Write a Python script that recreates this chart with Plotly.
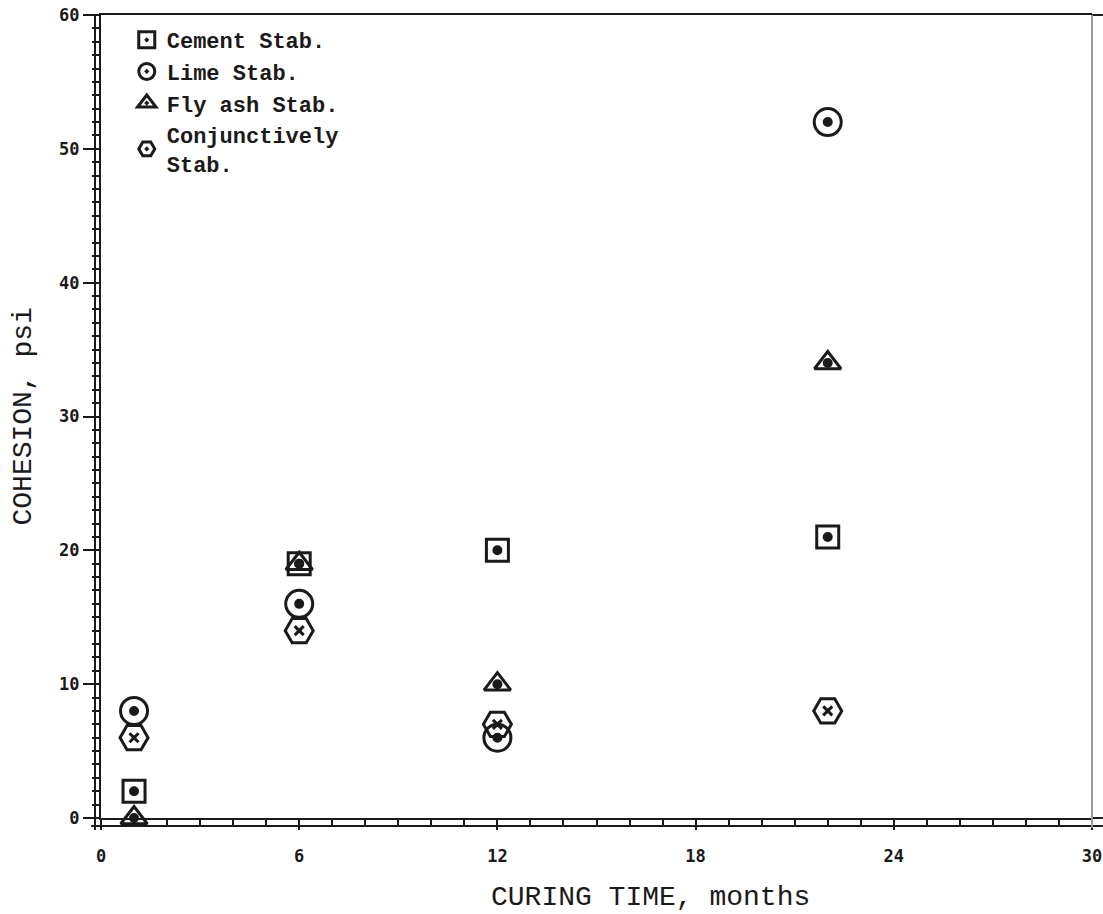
import plotly.graph_objects as go

# ---- data ----
curing_months = [1, 6, 12, 22]
cement = [2, 19, 20, 21]
lime = [8, 16, 6, 52]
fly_ash = [0, 19, 10, 34]
conjunctive = [6, 14, 7, 8]

x_tickvals = [0, 6, 12, 18, 24, 30]
x_ticktext = ["0", "6", "12", "18", "24", "30"]
y_tickvals = [0, 10, 20, 30, 40, 50, 60]
y_ticktext = ["0", "10", "20", "30", "40", "50", "60"]

INK = "#1a1a1a"

series = [
    ("Cement Stab.", cement, "square-open-dot", 22, "circle", 7),
    ("Lime Stab.", lime, "circle-open-dot", 27, "circle", 7),
    ("Fly ash Stab.", fly_ash, "triangle-up-open-dot", 23, "circle", 7),
    ("Conjunctively<br>Stab.", conjunctive, "hexagon2-open-dot", 28, "x-thin-open", 9),
]

fig = go.Figure()
for i, (name, vals, sym, size, inner, isize) in enumerate(series):
    fig.add_trace(go.Scatter(
        x=curing_months, y=vals, mode="markers", name=name,
        legendgroup=str(i), cliponaxis=False,
        marker=dict(symbol=sym, size=size, color=INK,
                    line=dict(width=3, color=INK)),
    ))
    fig.add_trace(go.Scatter(
        x=curing_months, y=vals, mode="markers", showlegend=False,
        legendgroup=str(i), cliponaxis=False, hoverinfo="skip",
        marker=dict(symbol=inner, size=isize, color=INK,
                    line=dict(width=3, color=INK)),
    ))

tickfont = dict(family="DejaVu Sans Mono", size=17, color=INK, weight="bold")

fig.update_xaxes(
    range=[0, 30], tickvals=x_tickvals, ticktext=x_ticktext,
    showline=True, linecolor=INK, linewidth=2, mirror=True,
    ticks="outside", ticklen=10, tickwidth=2, tickcolor=INK,
    minor=dict(dtick=1, ticks="outside", ticklen=5, tickwidth=1.5, tickcolor=INK),
    showgrid=False, zeroline=False, tickfont=tickfont, ticklabelstandoff=12,
    automargin=False, ticklabeloverflow="allow",
)
fig.update_yaxes(
    range=[0, 60], tickvals=y_tickvals, ticktext=y_ticktext,
    showline=True, linecolor=INK, linewidth=2, mirror=False,
    ticks="outside", ticklen=16, tickwidth=2, tickcolor=INK,
    minor=dict(dtick=1, ticks="outside", ticklen=7, tickwidth=1.5, tickcolor=INK),
    showgrid=False, zeroline=False, tickfont=tickfont,
    automargin=False, ticklabeloverflow="allow",
)

shapes = [
    # second (outer) left frame line
    dict(type="line", xref="paper", yref="paper", xsizemode="pixel", xanchor=0,
         x0=-6, x1=-6, y0=-0.015, y1=1, line=dict(color=INK, width=2)),
    # second (outer) bottom frame line
    dict(type="line", xref="paper", yref="paper", ysizemode="pixel", yanchor=0,
         y0=-8, y1=-8, x0=-0.01, x1=1.011, line=dict(color=INK, width=2)),
    # bottom line extension to right
    dict(type="line", xref="paper", yref="paper", x0=1, x1=1.011, y0=0, y1=0,
         line=dict(color=INK, width=2)),
    # top line extension
    dict(type="line", xref="paper", yref="paper", x0=1, x1=1.011, y0=1, y1=1,
         line=dict(color=INK, width=2)),
    # right frame line (gray)
    dict(type="line", xref="paper", yref="paper", x0=1, x1=1, y0=-0.012, y1=1,
         line=dict(color="#9a9a9a", width=2)),
]

fig.update_layout(
    width=1103, height=914,
    margin=dict(l=101, r=11, t=15, b=96),
    plot_bgcolor="white", paper_bgcolor="white",
    shapes=shapes,
    showlegend=True,
    legend=dict(x=0.026, y=0.995, xanchor="left", yanchor="top",
                bgcolor="rgba(0,0,0,0)", tracegroupgap=0,
                font=dict(family="Liberation Mono", size=22, color=INK, weight="bold")),
    annotations=[
        dict(text="CURING TIME, months", xref="paper", yref="paper",
             x=0.554, y=0, xanchor="center", yanchor="top", yshift=-62,
             showarrow=False,
             font=dict(family="Liberation Mono", size=28, color=INK)),
        dict(text="COHESION, psi", xref="paper", yref="paper",
             x=0, y=0.5, xanchor="center", yanchor="middle", xshift=-78,
             textangle=-90, showarrow=False,
             font=dict(family="Liberation Mono", size=28, color=INK)),
    ],
)

# remove the default page margin so the figure fills the window exactly
fig.write_html("out.html", config={"displayModeBar": False},
               post_script="document.body.style.margin='0';")
